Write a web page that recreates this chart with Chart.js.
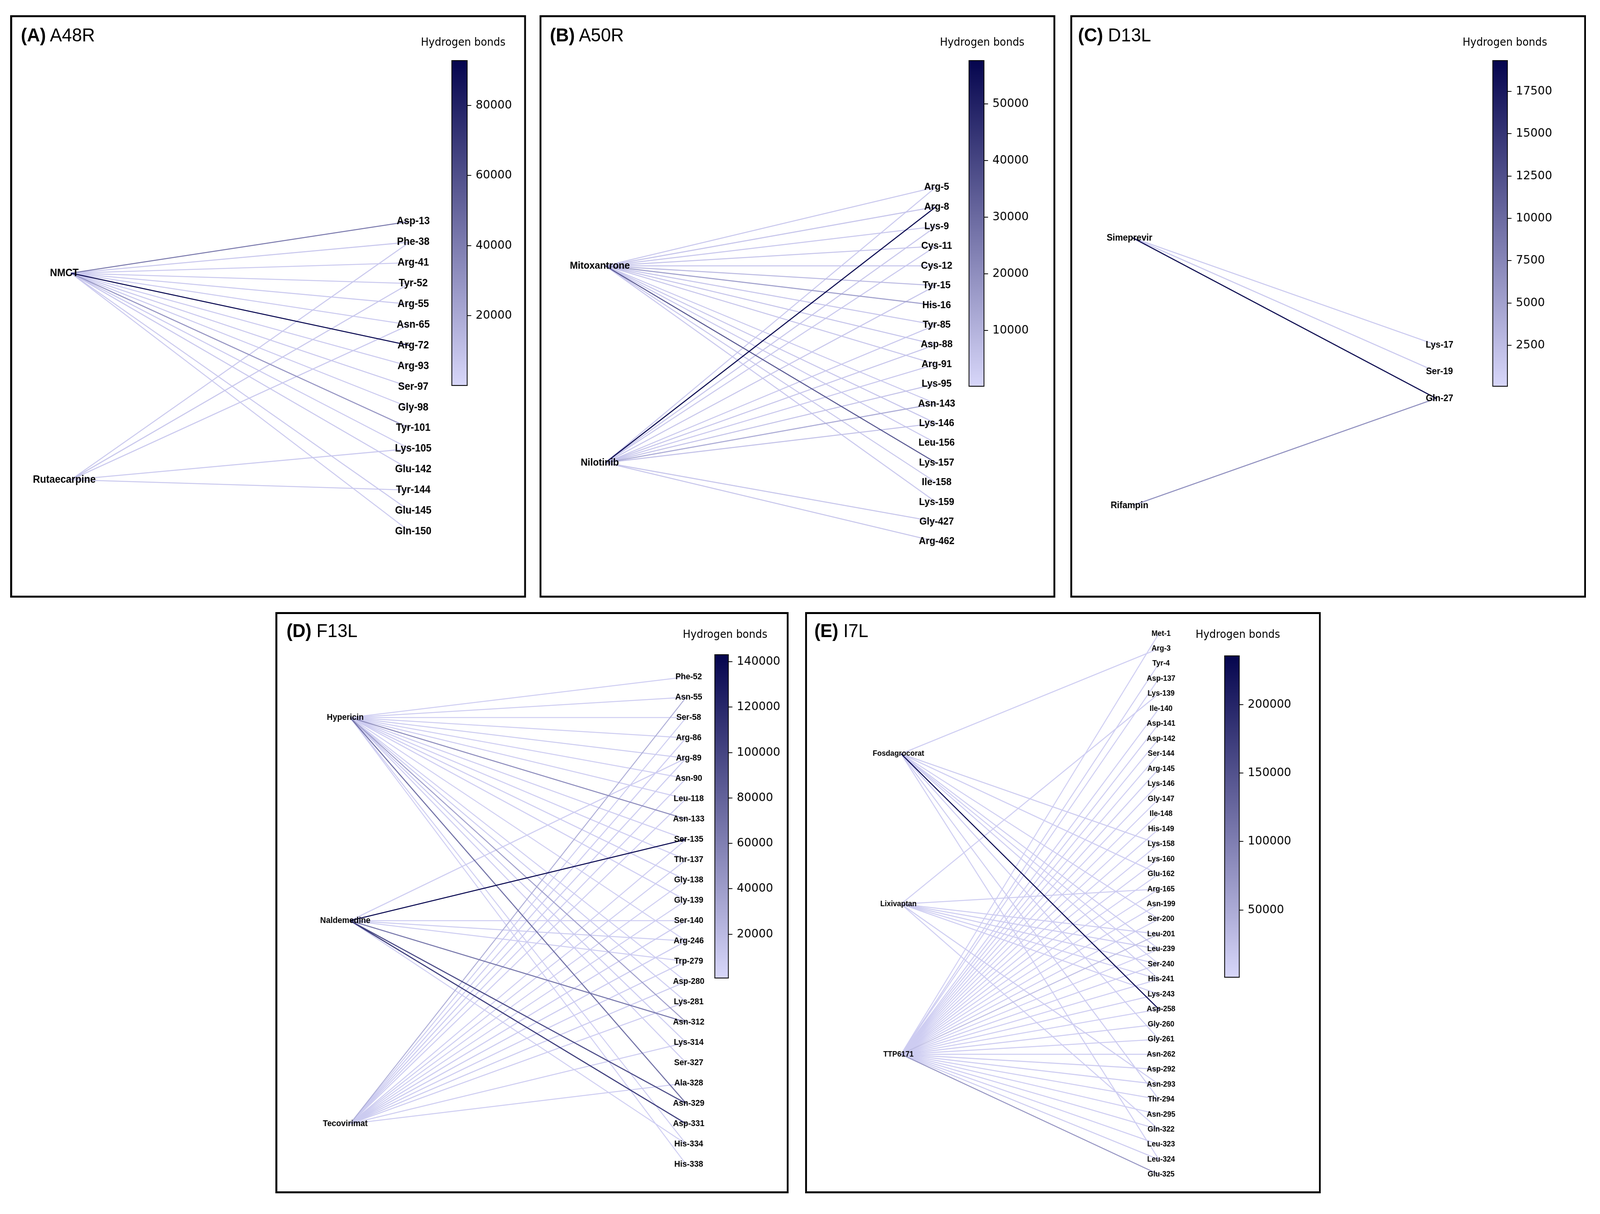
<!DOCTYPE html>
<html><head><meta charset="utf-8">
<script src="https://cdn.jsdelivr.net/npm/chart.js@4.4.1/dist/chart.umd.min.js"></script>
<style>
html,body{margin:0;padding:0;background:#fff;overflow:hidden;}
#root{position:absolute;left:0;top:0;width:4356px;height:3108px;transform-origin:0 0;background:#fff;}
.panel{position:absolute;}
.frame{position:absolute;left:0;top:0;right:0;bottom:0;border:5px solid #000;box-sizing:border-box;pointer-events:none;}
.ptitle{position:absolute;font-family:"Liberation Sans",Arial,sans-serif;font-size:49px;line-height:49px;white-space:nowrap;color:#000;}
.hb{position:absolute;width:400px;text-align:center;font-family:"DejaVu Sans",sans-serif;font-size:28px;line-height:28px;color:#000;white-space:nowrap;}
canvas{position:absolute;}
</style></head><body>
<div id="root"></div>
<script>
// ---------------- DATA ----------------
const colorbarLabel = 'Hydrogen bonds';

// (A) A48R
const titleA = ['(A)', 'A48R'];
const resA = ['Asp-13','Phe-38','Arg-41','Tyr-52','Arg-55','Asn-65','Arg-72','Arg-93','Ser-97','Gly-98','Tyr-101','Lys-105','Glu-142','Tyr-144','Glu-145','Gln-150'];
const drugsA = ['NMCT','Rutaecarpine'];
const hbA_NMCT =         [42000,7000,6000,6500,6000,6000,92900,6000,6500,6000,30000,6000,7000,null,7000,6500];
const hbA_Rutaecarpine = [null,7000,null,7500,null,6500,null,null,null,null,null,6000,null,6500,null,null];
const cbRangeA = [0, 92900];
const cbTicksA = [20000,40000,60000,80000];

// (B) A50R
const titleB = ['(B)', 'A50R'];
const resB = ['Arg-5','Arg-8','Lys-9','Cys-11','Cys-12','Tyr-15','His-16','Tyr-85','Asp-88','Arg-91','Lys-95','Asn-143','Lys-146','Leu-156','Lys-157','Ile-158','Lys-159','Gly-427','Arg-462'];
const drugsB = ['Mitoxantrone','Nilotinib'];
const hbB_Mitoxantrone = [4500,5000,4500,5000,4500,8000,15000,5000,5500,5000,null,4500,5000,4500,36000,5000,4500,null,null];
const hbB_Nilotinib =    [4500,57700,5000,4500,null,5000,null,4500,5000,4500,6000,12000,6000,null,null,null,null,5000,5000];
const cbRangeB = [70, 57700];
const cbTicksB = [10000,20000,30000,40000,50000];

// (C) D13L
const titleC = ['(C)', 'D13L'];
const resC = ['Lys-17','Ser-19','Gln-27'];
const drugsC = ['Simeprevir','Rifampin'];
const hbC_Simeprevir = [1300,1400,19300];
const hbC_Rifampin =   [null,null,6800];
const cbRangeC = [60, 19340];
const cbTicksC = [2500,5000,7500,10000,12500,15000,17500];

// (D) F13L
const titleD = ['(D)', 'F13L'];
const resD = ['Phe-52','Asn-55','Ser-58','Arg-86','Arg-89','Asn-90','Leu-118','Asn-133','Ser-135','Thr-137','Gly-138','Gly-139','Ser-140','Arg-246','Trp-279','Asp-280','Lys-281','Asn-312','Lys-314','Ser-327','Ala-328','Asn-329','Asp-331','His-334','His-338'];
const drugsD = ['Hypericin','Naldemedine','Tecovirimat'];
const hbD_Hypericin =   [7000,8000,7000,8000,9000,7000,8000,52000,8000,7000,8000,7000,null,8000,null,8000,9000,40000,9000,8000,null,72000,null,8000,7000];
const hbD_Naldemedine = [null,null,null,null,8000,null,null,null,143300,null,null,null,8000,9000,8000,null,null,68000,null,null,null,98000,108000,8000,null];
const hbD_Tecovirimat = [null,30000,9000,8000,9000,8000,8000,null,8000,9000,8000,9000,8000,9000,8000,9000,8000,null,8000,null,8000,null,null,null,null];
const cbRangeD = [500, 143300];
const cbTicksD = [20000,40000,60000,80000,100000,120000,140000];

// (E) I7L
const titleE = ['(E)', 'I7L'];
const resE = ['Met-1','Arg-3','Tyr-4','Asp-137','Lys-139','Ile-140','Asp-141','Asp-142','Ser-144','Arg-145','Lys-146','Gly-147','Ile-148','His-149','Lys-158','Lys-160','Glu-162','Arg-165','Asn-199','Ser-200','Leu-201','Leu-239','Ser-240','His-241','Lys-243','Asp-258','Gly-260','Gly-261','Asn-262','Asp-292','Asn-293','Thr-294','Asn-295','Gln-322','Leu-323','Leu-324','Glu-325'];
const drugsE = ['Fosdagrocorat','Lixivaptan','TTP6171'];
const hbE_Fosdagrocorat = [null,12000,null,null,null,null,null,null,null,null,null,null,null,null,14000,null,12000,null,null,13000,null,14000,12000,13000,null,236000,null,12000,null,null,null,14000,null,null,null,13000,null];
const hbE_Lixivaptan =    [null,null,null,null,12000,null,null,null,null,null,null,null,null,null,null,null,null,13000,null,null,12000,13000,14000,12000,12000,null,null,null,null,null,13000,null,null,12000,null,null,null];
const hbE_TTP6171 =       [12000,null,13000,12000,null,12000,13000,12000,12000,13000,12000,12000,13000,12000,12000,13000,12000,12000,12000,14000,30000,12000,13000,12000,13000,12000,13000,12000,12000,13000,12000,13000,12000,13000,12000,14000,78000];
const cbRangeE = [470, 236000];
const cbTicksE = [50000,100000,150000,200000];

// ---------------- STYLE / LAYOUT ----------------
const PAGE_W = 4356, PAGE_H = 3108;
const root = document.getElementById('root');
const sx = (window.innerWidth / PAGE_W) || 1, sy = (window.innerHeight / PAGE_H) || 1;
root.style.transform = `scale(${sx}, ${sy})`;
const DPR = Math.max(sx, sy) * (window.devicePixelRatio || 1);

const LOW = [216,215,250], HIGH = [5,5,78];
const DRUG_GAP = 10; // vertical spacing of ligand nodes, in residue slots
function cmap(t){
  t = Math.max(0, Math.min(1, t));
  const c = LOW.map((l,i)=>Math.round(l + (HIGH[i]-l)*t));
  return `rgb(${c[0]},${c[1]},${c[2]})`;
}

const layoutA = {left:28,  top:39,  w:1404, h:1491, drugX:165, resX:1087, y0:528, s:52.9, dl:-18, rl:10, font:27, titleX:29, titleBase:67, hbX:1233, hbTop:55, cb:{x:1201,y:115,w:44,h:834}};
const layoutB = {left:1469,top:39,  w:1404, h:1491, drugX:179, resX:1079, y0:440, s:50.4, dl:-15, rl:2,  font:26, titleX:28, titleBase:67, hbX:1205, hbTop:55, cb:{x:1168,y:115,w:43,h:836}};
const layoutC = {left:2914,top:39,  w:1404, h:1491, drugX:170, resX:996,  y0:844, s:68.5, dl:-9,  rl:9,  font:24, titleX:21, titleBase:67, hbX:1183, hbTop:55, cb:{x:1149,y:115,w:42,h:836}};
const layoutD = {left:750, top:1567,w:1397, h:1488, drugX:203, resX:1118, y0:166, s:52.0, dl:-13, rl:7,  font:22, titleX:30, titleBase:64, hbX:1224, hbTop:43, cb:{x:1195,y:108,w:39,h:830}};
const layoutE = {left:2192,top:1567,w:1404, h:1488, drugX:261, resX:963,  y0:55,  s:38.47,dl:-7,  rl:6,  font:20, titleX:25, titleBase:64, hbX:1178, hbTop:43, cb:{x:1141,y:111,w:42,h:825}};

function build(d, L){
  const panel = document.createElement('div');
  panel.className = 'panel';
  Object.assign(panel.style, {left:L.left+'px', top:L.top+'px', width:L.w+'px', height:L.h+'px'});
  root.appendChild(panel);

  // network canvas
  const cv = document.createElement('canvas');
  cv.width = L.w; cv.height = L.h;
  Object.assign(cv.style, {left:'0px', top:'0px', width:L.w+'px', height:L.h+'px'});
  panel.appendChild(cv);

  const nR = d.res.length, nD = d.drugs.length;
  const drugSlot = k => (nR-1)/2 + (k-(nD-1)/2)*DRUG_GAP;
  const [vmin, vmax] = d.range;
  const datasets = [];
  d.hb.forEach((arr,k)=>arr.forEach((v,i)=>{
    if (v == null) return;
    datasets.push({
      data:[{x:0,y:drugSlot(k)},{x:1,y:i}],
      borderColor:cmap((v-vmin)/(vmax-vmin)),
      borderWidth:2.6, order:-v, showLine:true, pointRadius:0, fill:false
    });
  }));
  const kx = L.resX - L.drugX;
  const labelPlugin = {id:'nodeLabels', afterDatasetsDraw(chart){
    const ctx = chart.ctx, xs = chart.scales.x, ys = chart.scales.y;
    ctx.save();
    ctx.fillStyle = '#000';
    ctx.font = `bold ${L.font}px "Liberation Sans", Arial, sans-serif`;
    ctx.textAlign = 'center'; ctx.textBaseline = 'middle';
    d.res.forEach((r,i)=>ctx.fillText(r, xs.getPixelForValue(1)+L.rl, ys.getPixelForValue(i)));
    d.drugs.forEach((n,k)=>ctx.fillText(n, xs.getPixelForValue(0)+L.dl, ys.getPixelForValue(drugSlot(k))));
    ctx.restore();
  }};
  new Chart(cv, {
    type:'scatter',
    data:{datasets},
    options:{
      responsive:false, animation:false, devicePixelRatio:DPR, events:[],
      layout:{padding:0},
      plugins:{legend:{display:false}, tooltip:{enabled:false}},
      scales:{
        x:{type:'linear', display:false, min:-L.drugX/kx, max:(L.w-L.drugX)/kx},
        y:{type:'linear', display:false, reverse:true, min:-L.y0/L.s, max:(L.h-L.y0)/L.s}
      }
    },
    plugins:[labelPlugin]
  });

  // colorbar
  const AXW = 170;
  const cb = document.createElement('canvas');
  cb.width = L.cb.w + AXW; cb.height = L.cb.h;
  Object.assign(cb.style, {left:L.cb.x+'px', top:L.cb.y+'px', width:(L.cb.w+AXW)+'px', height:L.cb.h+'px'});
  panel.appendChild(cb);
  new Chart(cb, {
    type:'bar',
    data:{labels:[''], datasets:[{
      data:[[vmin, vmax]],
      backgroundColor:(c)=>{
        const a = c.chart.chartArea;
        if (!a) return cmap(0.5);
        const g = c.chart.ctx.createLinearGradient(0, a.bottom, 0, a.top);
        g.addColorStop(0, cmap(0)); g.addColorStop(0.5, cmap(0.5)); g.addColorStop(1, cmap(1));
        return g;
      },
      borderColor:'#000', borderWidth:2.5, borderSkipped:false,
      barPercentage:1, categoryPercentage:1
    }]},
    options:{
      responsive:false, animation:false, devicePixelRatio:DPR, events:[],
      layout:{padding:0},
      plugins:{legend:{display:false}, tooltip:{enabled:false}},
      scales:{
        x:{display:false},
        y:{
          position:'right', min:vmin, max:vmax,
          afterBuildTicks:s=>{ s.ticks = d.ticks.map(v=>({value:v})); },
          afterFit:s=>{ s.width = AXW; s.paddingTop = 0; s.paddingBottom = 0; },
          border:{display:false},
          grid:{drawOnChartArea:false, drawTicks:true, tickLength:10, color:'#000', lineWidth:2},
          ticks:{color:'#000', padding:12, font:{family:"'DejaVu Sans'", size:31}, callback:v=>String(v)}
        }
      }
    }
  });

  // title
  const t = document.createElement('div');
  t.className = 'ptitle';
  t.innerHTML = `<b>${d.title[0]}</b> ${d.title[1]}`;
  Object.assign(t.style, {left:L.titleX+'px', top:(L.titleBase-41.5)+'px'});
  panel.appendChild(t);

  const hb = document.createElement('div');
  hb.className = 'hb';
  hb.textContent = colorbarLabel;
  Object.assign(hb.style, {left:(L.hbX-200)+'px', top:L.hbTop+'px'});
  panel.appendChild(hb);

  const fr = document.createElement('div');
  fr.className = 'frame';
  panel.appendChild(fr);
}

build({title:titleA, res:resA, drugs:drugsA, hb:[hbA_NMCT, hbA_Rutaecarpine], range:cbRangeA, ticks:cbTicksA}, layoutA);
build({title:titleB, res:resB, drugs:drugsB, hb:[hbB_Mitoxantrone, hbB_Nilotinib], range:cbRangeB, ticks:cbTicksB}, layoutB);
build({title:titleC, res:resC, drugs:drugsC, hb:[hbC_Simeprevir, hbC_Rifampin], range:cbRangeC, ticks:cbTicksC}, layoutC);
build({title:titleD, res:resD, drugs:drugsD, hb:[hbD_Hypericin, hbD_Naldemedine, hbD_Tecovirimat], range:cbRangeD, ticks:cbTicksD}, layoutD);
build({title:titleE, res:resE, drugs:drugsE, hb:[hbE_Fosdagrocorat, hbE_Lixivaptan, hbE_TTP6171], range:cbRangeE, ticks:cbTicksE}, layoutE);
</script>
</body></html>
